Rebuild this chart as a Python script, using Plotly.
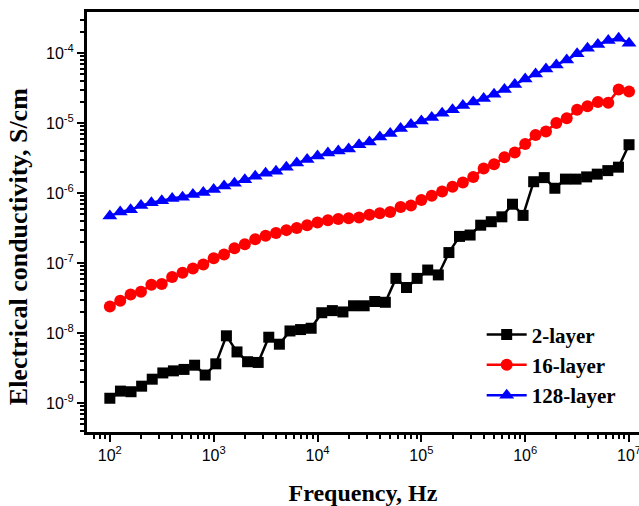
import plotly.graph_objects as go

# Frequencies (Hz)
freq_51 = [100, 125.9, 158.5, 199.5, 251.2, 316.2, 398.1, 501.2, 631.0, 794.3,
           1000, 1259, 1585, 1995, 2512, 3162, 3981, 5012, 6310, 7943,
           1.0e4, 1.259e4, 1.585e4, 1.995e4, 2.512e4, 3.162e4, 3.981e4, 5.012e4, 6.310e4, 7.943e4,
           1.0e5, 1.259e5, 1.585e5, 1.995e5, 2.512e5, 3.162e5, 3.981e5, 5.012e5, 6.310e5, 7.943e5,
           1.0e6, 1.259e6, 1.585e6, 1.995e6, 2.512e6, 3.162e6, 3.981e6, 5.012e6, 6.310e6, 7.943e6,
           1.0e7]

freq_2layer = [100, 126.5, 160.0, 202.4, 256.0, 323.7, 409.5, 518.0, 655.2, 828.6,
               1048, 1326, 1677, 2121, 2683, 3393, 4292, 5429, 6866, 8685,
               10985, 13895, 17575, 22230, 28118, 35565, 44984, 56899, 71969, 91030,
               115140, 145635, 184207, 232995, 294705, 372759, 471487, 596362, 754312, 954095,
               1.207e6, 1.526e6, 1.931e6, 2.442e6, 3.089e6, 3.907e6, 4.942e6, 6.251e6, 7.906e6, 1.0e7]

# Electrical conductivity (S/cm)
sigma_2layer = [1.17e-9, 1.48e-9, 1.45e-9, 1.74e-9, 2.19e-9, 2.69e-9, 2.88e-9, 3.02e-9, 3.47e-9, 2.51e-9,
                3.63e-9, 9.12e-9, 5.37e-9, 3.89e-9, 3.80e-9, 8.71e-9, 6.92e-9, 1.07e-8, 1.12e-8, 1.17e-8,
                1.95e-8, 2.09e-8, 2.00e-8, 2.45e-8, 2.45e-8, 2.82e-8, 2.75e-8, 6.03e-8, 4.47e-8, 6.03e-8,
                7.94e-8, 6.76e-8, 1.41e-7, 2.40e-7, 2.51e-7, 3.47e-7, 3.89e-7, 4.57e-7, 6.92e-7, 4.79e-7,
                1.45e-6, 1.66e-6, 1.17e-6, 1.58e-6, 1.58e-6, 1.70e-6, 1.86e-6, 2.09e-6, 2.34e-6, 4.90e-6]

sigma_16layer = [2.40e-8, 2.88e-8, 3.55e-8, 3.89e-8, 4.90e-8, 5.01e-8, 6.31e-8, 7.24e-8, 8.32e-8, 9.55e-8,
                 1.17e-7, 1.32e-7, 1.62e-7, 1.86e-7, 2.19e-7, 2.45e-7, 2.69e-7, 2.95e-7, 3.16e-7, 3.47e-7,
                 3.80e-7, 4.07e-7, 4.27e-7, 4.37e-7, 4.47e-7, 4.90e-7, 5.13e-7, 5.37e-7, 6.31e-7, 6.61e-7,
                 7.94e-7, 9.12e-7, 1.05e-6, 1.23e-6, 1.41e-6, 1.70e-6, 2.24e-6, 2.57e-6, 3.24e-6, 3.80e-6,
                 5.01e-6, 6.76e-6, 7.59e-6, 1.00e-5, 1.17e-5, 1.55e-5, 1.74e-5, 2.00e-5, 1.95e-5, 3.02e-5,
                 2.82e-5]

sigma_128layer = [4.68e-7, 5.37e-7, 5.75e-7, 6.61e-7, 7.24e-7, 7.76e-7, 8.32e-7, 8.71e-7, 9.55e-7, 1.02e-6,
                  1.12e-6, 1.26e-6, 1.38e-6, 1.55e-6, 1.74e-6, 1.91e-6, 2.04e-6, 2.34e-6, 2.69e-6, 3.02e-6,
                  3.39e-6, 3.72e-6, 3.98e-6, 4.27e-6, 4.90e-6, 5.37e-6, 6.31e-6, 7.08e-6, 8.32e-6, 9.55e-6,
                  1.07e-5, 1.20e-5, 1.38e-5, 1.55e-5, 1.78e-5, 2.00e-5, 2.24e-5, 2.57e-5, 3.02e-5, 3.55e-5,
                  4.27e-5, 5.01e-5, 5.89e-5, 6.76e-5, 7.94e-5, 9.77e-5, 1.17e-4, 1.32e-4, 1.51e-4, 1.62e-4,
                  1.38e-4]

series_names = ["2-layer", "16-layer", "128-layer"]

x_tickvals = [1e2, 1e3, 1e4, 1e5, 1e6, 1e7]
x_ticktext = ["10<sup>2</sup>", "10<sup>3</sup>", "10<sup>4</sup>", "10<sup>5</sup>", "10<sup>6</sup>", "10<sup>7</sup>"]
y_tickvals = [1e-9, 1e-8, 1e-7, 1e-6, 1e-5, 1e-4]
y_ticktext = ["10<sup>-9</sup>", "10<sup>-8</sup>", "10<sup>-7</sup>", "10<sup>-6</sup>", "10<sup>-5</sup>", "10<sup>-4</sup>"]

x_minor = [m * 10 ** k for k in range(1, 7) for m in range(2, 10)]
y_minor = [m * 10 ** k for k in range(-10, -3) for m in range(2, 10)]

fig = go.Figure()
fig.add_trace(go.Scatter(x=freq_2layer, y=sigma_2layer, name=series_names[0], mode="lines+markers",
                         line=dict(color="black", width=2.5),
                         marker=dict(symbol="square", size=11, color="black")))
fig.add_trace(go.Scatter(x=freq_51, y=sigma_16layer, name=series_names[1], mode="lines+markers",
                         line=dict(color="#ff0000", width=2.5),
                         marker=dict(symbol="circle", size=12, color="#ff0000")))
fig.add_trace(go.Scatter(x=freq_51, y=sigma_128layer, name=series_names[2], mode="lines+markers",
                         line=dict(color="#0000ff", width=2.5),
                         marker=dict(symbol="triangle-up", size=13, color="#0000ff")))

axis_common = dict(showgrid=False, zeroline=False, showline=True, linecolor="black", linewidth=3,
                   ticks="outside", ticklen=7, tickwidth=2, tickcolor="black", automargin=False,
                   ticklabeloverflow="allow",
                   tickfont=dict(family="Liberation Sans, Arial", size=16, color="black"))

fig.update_xaxes(type="log", range=[1.78, 7.096], tickmode="array", tickvals=x_tickvals, ticktext=x_ticktext,
                 mirror=True,
                 minor=dict(ticks="outside", ticklen=4, tickwidth=2, tickcolor="black", tickvals=x_minor),
                 title=dict(text="Frequency, Hz", standoff=22,
                            font=dict(family="Liberation Serif, Times New Roman", size=24, color="black", weight="bold")),
                 **axis_common)
fig.update_yaxes(type="log", range=[-9.414, -3.414], tickmode="array", tickvals=y_tickvals, ticktext=y_ticktext,
                 minor=dict(ticks="outside", ticklen=4, tickwidth=2, tickcolor="black", tickvals=y_minor),
                 **axis_common)

fig.add_annotation(text="Electrical conductivity, S/cm", textangle=-90, showarrow=False,
                   xref="paper", yref="paper", x=-0.125, y=0.44, xanchor="center", yanchor="middle",
                   font=dict(family="Liberation Serif, Times New Roman", size=26, color="black", weight="bold"))

fig.update_layout(
    width=639, height=506,
    margin=dict(l=87, r=0, t=12, b=74),
    plot_bgcolor="white", paper_bgcolor="white",
    legend=dict(x=0.715, y=0.28, xanchor="left", yanchor="top", bgcolor="rgba(0,0,0,0)",
                font=dict(family="Liberation Serif, Times New Roman", size=21, color="black", weight="bold"),
                tracegroupgap=0, itemwidth=40),
    showlegend=True,
)

fig.write_html("out.html", config={"displayModeBar": False},
               post_script="document.body.style.margin='0';document.body.style.overflow='hidden';")
